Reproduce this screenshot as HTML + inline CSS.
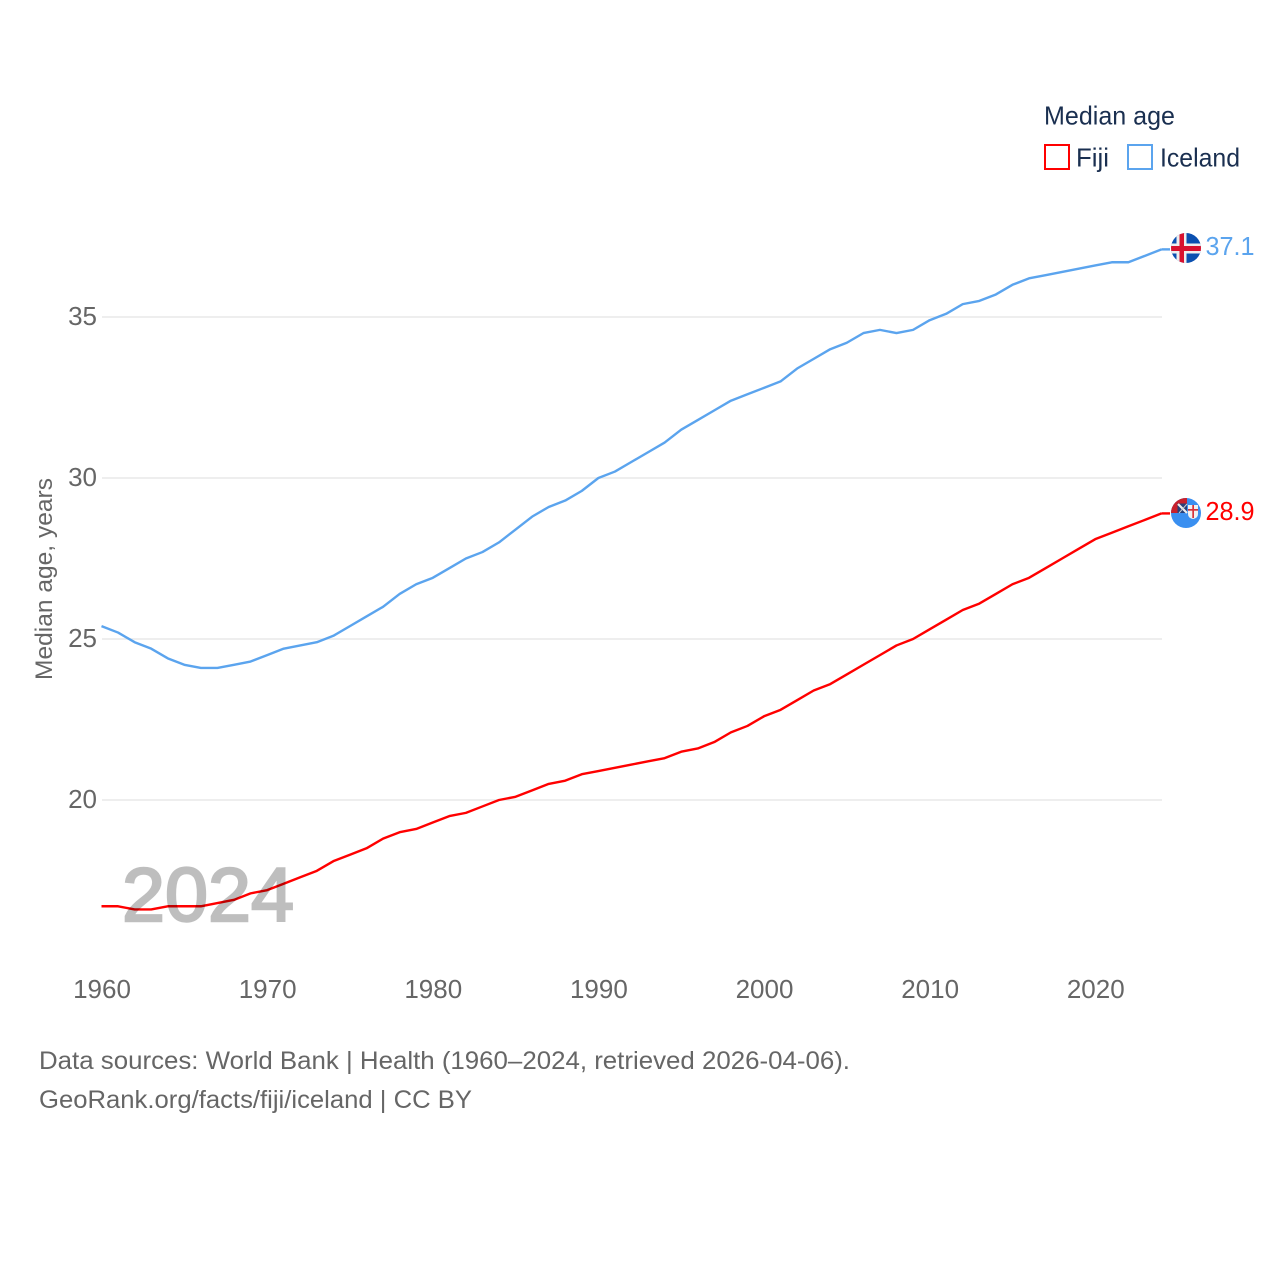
<!DOCTYPE html>
<html lang="en">
<head>
<meta charset="utf-8">
<title>Median age: Fiji and Iceland</title>
<style>
html,body{margin:0;padding:0;background:#fff;width:1280px;height:1280px;overflow:hidden}
svg{display:block}
text{font-family:"Liberation Sans",sans-serif}
</style>
</head>
<body>
<svg id="chart" xmlns="http://www.w3.org/2000/svg" width="1280" height="1280" viewBox="0 0 1280 1280">
  <defs>
    <clipPath id="clip-iceland"><circle cx="1186" cy="248" r="15"/></clipPath>
    <clipPath id="clip-fiji"><circle cx="1186" cy="513" r="15"/></clipPath>
  </defs>
  <g id="grid"></g>
  <g id="yticks"></g>
  <g id="xticks"></g>
  <g id="series"></g>

  <text x="122" y="921" font-size="76" fill="#000" stroke="#000" stroke-width="2.400" opacity="0.25" textLength="172" lengthAdjust="spacingAndGlyphs">2024</text>

  <text transform="translate(52,680) rotate(-90)" font-size="24.500" fill="#666" textLength="202" lengthAdjust="spacingAndGlyphs">Median age, years</text>

  <g>
    <text x="1044" y="124.500" font-size="26" fill="#1a2f50" textLength="131" lengthAdjust="spacingAndGlyphs">Median age</text>
    <rect x="1045" y="145" width="24" height="24" fill="none" stroke="#ff0000" stroke-width="2"/>
    <text x="1076" y="166.500" font-size="26" fill="#1a2f50" textLength="33" lengthAdjust="spacingAndGlyphs">Fiji</text>
    <rect x="1128" y="145" width="24" height="24" fill="none" stroke="#5ba4ee" stroke-width="2"/>
    <text x="1160" y="166.500" font-size="26" fill="#1a2f50" textLength="80" lengthAdjust="spacingAndGlyphs">Iceland</text>
  </g>

  <g clip-path="url(#clip-iceland)">
    <rect x="1171" y="233" width="30" height="30" fill="#0b50b0"/>
    <rect x="1171" y="243.500" width="30" height="10" fill="#eee"/>
    <rect x="1176.500" y="233" width="10" height="30" fill="#eee"/>
    <rect x="1171" y="246" width="30" height="5" fill="#d8112f"/>
    <rect x="1179.500" y="233" width="4.500" height="30" fill="#d8112f"/>
  </g>
  <text x="1205.500" y="255" font-size="26" fill="#5ba4ee" textLength="49" lengthAdjust="spacingAndGlyphs">37.1</text>

  <g clip-path="url(#clip-fiji)">
    <rect x="1171" y="498" width="30" height="30" fill="#3a8ff0"/>
    <rect x="1171" y="498" width="16" height="15" fill="#c8202c"/>
    <rect x="1177.500" y="503.500" width="9.500" height="9.500" fill="#28407a"/>
    <path d="M1178 504 L1187 513" stroke="#eee" stroke-width="2.200"/>
    <path d="M1187 504 L1179 513" stroke="#ccc" stroke-width="1"/>
    <path d="M1188 505 H1198 V514 Q1198 518 1193 519 Q1188 518 1188 514 Z" fill="#f1f1f1"/>
    <rect x="1188" y="509" width="10" height="1.700" fill="#d8323a"/>
    <rect x="1192.300" y="505" width="1.700" height="13" fill="#d8323a"/>
  </g>
  <text x="1205.500" y="520" font-size="26" fill="#ff0000" textLength="49" lengthAdjust="spacingAndGlyphs">28.9</text>

  <g>
    <text x="39" y="1069" font-size="25" fill="#666" textLength="811" lengthAdjust="spacingAndGlyphs">Data sources: World Bank | Health (1960–2024, retrieved 2026-04-06).</text>
    <text x="39" y="1108" font-size="25" fill="#666" textLength="433" lengthAdjust="spacingAndGlyphs">GeoRank.org/facts/fiji/iceland | CC BY</text>
  </g>
</svg>
<script>
const startYear = 1960;
const fijiValues = [
  16.7,16.7,16.6,16.6,16.7,16.7,16.7,16.8,16.9,17.1,
  17.2,17.4,17.6,17.8,18.1,18.3,18.5,18.8,19.0,19.1,
  19.3,19.5,19.6,19.8,20.0,20.1,20.3,20.5,20.6,20.8,
  20.9,21.0,21.1,21.2,21.3,21.5,21.6,21.8,22.1,22.3,
  22.6,22.8,23.1,23.4,23.6,23.9,24.2,24.5,24.8,25.0,
  25.3,25.6,25.9,26.1,26.4,26.7,26.9,27.2,27.5,27.8,
  28.1,28.3,28.5,28.7,28.9
];
const icelandValues = [
  25.4,25.2,24.9,24.7,24.4,24.2,24.1,24.1,24.2,24.3,
  24.5,24.7,24.8,24.9,25.1,25.4,25.7,26.0,26.4,26.7,
  26.9,27.2,27.5,27.7,28.0,28.4,28.8,29.1,29.3,29.6,
  30.0,30.2,30.5,30.8,31.1,31.5,31.8,32.1,32.4,32.6,
  32.8,33.0,33.4,33.7,34.0,34.2,34.5,34.6,34.5,34.6,
  34.9,35.1,35.4,35.5,35.7,36.0,36.2,36.3,36.4,36.5,
  36.6,36.7,36.7,36.9,37.1
];
const yTickValues = [20,25,30,35];
const xTickValues = [1960,1970,1980,1990,2000,2010,2020];

const SVG_NS = 'http://www.w3.org/2000/svg';
function xScale(year){ return 101.500 + (year - 1960) * (1161.500 - 101.500) / 64; }
function yScale(v){ return 800 - (v - 20) * 32.2; }
function make(tag, attrs, parent){
  const el = document.createElementNS(SVG_NS, tag);
  for (const k in attrs) el.setAttribute(k, attrs[k]);
  parent.appendChild(el);
  return el;
}
const gridG = document.getElementById('grid');
const yG = document.getElementById('yticks');
const xG = document.getElementById('xticks');
const seriesG = document.getElementById('series');

yTickValues.forEach(function(v){
  const line = make('line', {x1:102, x2:1162, y1:yScale(v), y2:yScale(v), stroke:'#e9e9e9', 'stroke-width':1.6}, gridG);
  
  
  const t = make('text', {x:97, y:yScale(v)+8, 'text-anchor':'end', 'font-size':26, fill:'#666'}, yG);
  
  
  t.textContent = String(v);
});
xTickValues.forEach(function(y){
  const t = make('text', {x:xScale(y)+0.5, y:998, 'text-anchor':'middle', 'font-size':26, fill:'#666'}, xG);
  
  
  t.textContent = String(y);
});
function linePoints(values){
  return values.map(function(v,i){ return xScale(startYear+i).toFixed(2)+','+yScale(v).toFixed(2); }).join(' ');
}
const fijiLine = make('polyline', {points:linePoints(fijiValues), fill:'none', stroke:'#ff0000', 'stroke-width':2.4, 'stroke-linejoin':'round'}, seriesG);


const icelandLine = make('polyline', {points:linePoints(icelandValues), fill:'none', stroke:'#5ba4ee', 'stroke-width':2.4, 'stroke-linejoin':'round'}, seriesG);


const fijiLeader = make('line', {x1:xScale(2024), x2:1170, y1:yScale(fijiValues[fijiValues.length-1]), y2:yScale(fijiValues[fijiValues.length-1]), stroke:'#ff0000', 'stroke-width':2.4}, seriesG);


const icelandLeader = make('line', {x1:xScale(2024), x2:1170, y1:yScale(icelandValues[icelandValues.length-1]), y2:yScale(icelandValues[icelandValues.length-1]), stroke:'#5ba4ee', 'stroke-width':2.4}, seriesG);


</script>
</body>
</html>
